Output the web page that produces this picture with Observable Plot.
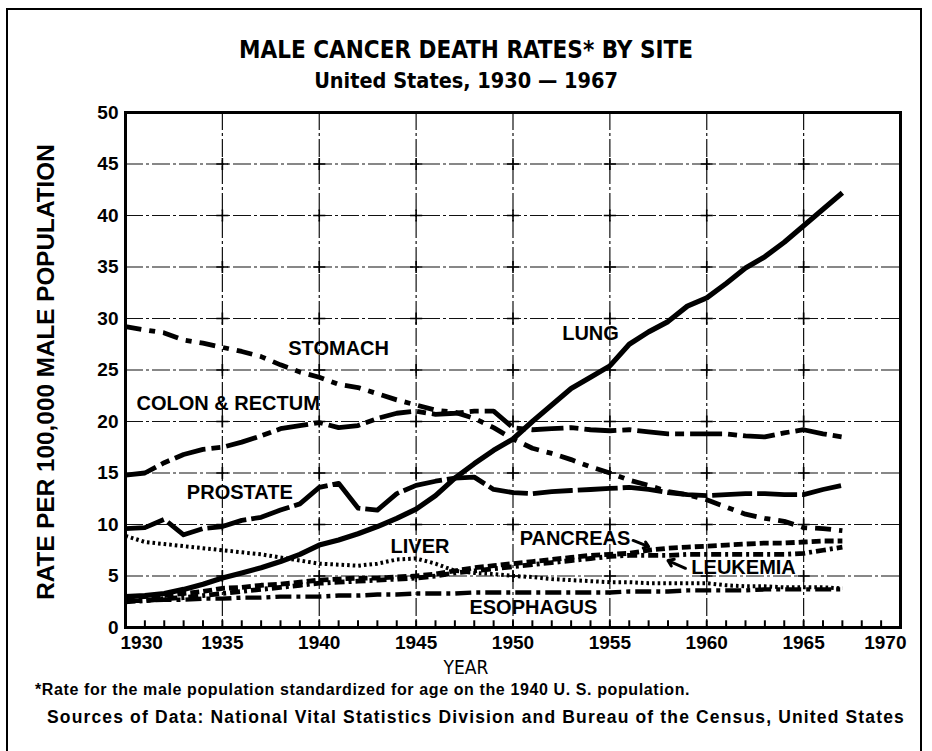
<!DOCTYPE html>
<html>
<head>
<meta charset="utf-8">
<script src="https://cdn.jsdelivr.net/npm/d3@7"></script>
<script src="https://cdn.jsdelivr.net/npm/@observablehq/plot@0.6"></script>
<style>
  html, body { margin: 0; padding: 0; background: #fff; }
  #page { position: relative; width: 932px; height: 751px; overflow: hidden; background: #fff; font-family: "Liberation Sans", Arial, Helvetica, sans-serif; color: #000; }
  #border { position: absolute; left: 6px; top: 8px; width: 916px; height: 780px; border: 2px solid #000; box-sizing: border-box; }
  .t { position: absolute; white-space: nowrap; line-height: 1; }
  #title { left: 0; width: 932px; top: 38px; text-align: center; font-family: "Liberation Sans Narrow", "DejaVu Sans Condensed", Arial, sans-serif; font-size: 24px; font-weight: bold; }
  #subtitle { left: 0; width: 932px; top: 70px; text-align: center; font-family: "Liberation Sans Narrow", "DejaVu Sans Condensed", Arial, sans-serif; font-size: 21.5px; font-weight: bold; }
  #ylab { left: 46px; top: 372px; transform: translate(-50%, -50%) rotate(-90deg); font-weight: bold; font-size: 24.3px; }
  #xlab { left: 0; width: 932px; top: 658px; text-align: center; font-family: "Liberation Sans Narrow", "DejaVu Sans Condensed", Arial, sans-serif; font-size: 19px; }
  #note1 { left: 35px; top: 682px; font-weight: bold; font-size: 16px; }
  #note2 { left: 47px; top: 709px; font-weight: bold; font-size: 17.5px; }
  #chart { position: absolute; left: 0; top: 95px; }
</style>
</head>
<body>
<div id="page">
  <div id="border"></div>
  <div class="t" id="title">MALE CANCER DEATH RATES* BY SITE</div>
  <div class="t" id="subtitle">United States, 1930 — 1967</div>
  <div class="t" id="ylab">RATE PER 100,000 MALE POPULATION</div>
  <div class="t" id="xlab">YEAR</div>
  <div class="t" id="note1">*Rate for the male population standardized for age on the 1940 U. S. population.</div>
  <div class="t" id="note2">Sources of Data: National Vital Statistics Division and Bureau of the Census, United States</div>
  <div id="chart"></div>
</div>
<script>
// ---- data (rate per 100,000 male population), years 1930–1967 ----
const years = d3.range(1930, 1968);

const lung = [3.0, 3.1, 3.3, 3.7, 4.2, 4.8, 5.3, 5.8, 6.4, 7.1,
  8.0, 8.5, 9.1, 9.8, 10.6, 11.5, 12.8, 14.5, 15.9, 17.2,
  18.3, 20.0, 21.6, 23.2, 24.3, 25.4, 27.5, 28.7, 29.7, 31.2,
  32.0, 33.4, 34.9, 36.0, 37.4, 39.0, 40.6, 42.2];
const stomach = [29.2, 28.9, 28.6, 27.9, 27.6, 27.2, 26.8, 26.3, 25.5, 24.8,
  24.3, 23.6, 23.3, 22.7, 22.1, 21.6, 21.1, 20.9, 20.3, 19.4,
  18.3, 17.4, 16.9, 16.3, 15.6, 15.0, 14.3, 13.8, 13.2, 12.9,
  12.4, 11.7, 11.0, 10.6, 10.3, 9.7, 9.6, 9.4];
const colon = [14.8, 15.0, 16.0, 16.8, 17.3, 17.5, 18.0, 18.6, 19.3, 19.6,
  19.9, 19.4, 19.6, 20.3, 20.8, 21.0, 20.7, 20.8, 21.0, 21.0,
  19.4, 19.2, 19.3, 19.4, 19.2, 19.1, 19.2, 19.0, 18.8, 18.8,
  18.8, 18.8, 18.6, 18.5, 18.9, 19.2, 18.8, 18.5];
const prostate = [9.6, 9.7, 10.5, 9.0, 9.6, 9.8, 10.4, 10.7, 11.4, 12.0,
  13.6, 14.0, 11.6, 11.4, 13.0, 13.8, 14.2, 14.5, 14.6, 13.4,
  13.1, 13.0, 13.2, 13.3, 13.4, 13.5, 13.6, 13.4, 13.1, 12.9,
  12.8, 12.9, 13.0, 13.0, 12.9, 12.9, 13.4, 13.8];
const liver = [8.9, 8.3, 8.1, 7.9, 7.7, 7.5, 7.3, 7.1, 6.8, 6.5,
  6.2, 6.1, 6.0, 6.2, 6.6, 6.7, 6.2, 5.5, 5.3, 5.2,
  5.0, 4.9, 4.7, 4.6, 4.5, 4.4, 4.4, 4.3, 4.3, 4.3,
  4.3, 4.1, 4.0, 4.0, 3.9, 3.9, 3.9, 3.8];
const pancreas = [2.9, 3.0, 3.1, 3.3, 3.5, 3.8, 3.9, 4.1, 4.2, 4.4,
  4.6, 4.7, 4.8, 4.8, 4.9, 5.0, 5.2, 5.5, 5.8, 6.0,
  6.2, 6.4, 6.6, 6.8, 7.0, 7.1, 7.2, 7.5, 7.7, 7.8,
  7.9, 8.0, 8.1, 8.2, 8.2, 8.3, 8.4, 8.4];
const leukemia = [2.5, 2.6, 2.8, 2.9, 3.1, 3.3, 3.5, 3.7, 3.9, 4.1,
  4.3, 4.4, 4.5, 4.6, 4.7, 4.8, 5.0, 5.3, 5.5, 5.7,
  5.9, 6.1, 6.3, 6.5, 6.7, 6.9, 7.0, 7.0, 7.0, 7.1,
  7.1, 7.1, 7.1, 7.1, 7.1, 7.2, 7.5, 7.8];
const esophagus = [2.6, 2.6, 2.7, 2.7, 2.8, 2.8, 2.9, 2.9, 3.0, 3.0,
  3.0, 3.1, 3.1, 3.2, 3.2, 3.3, 3.3, 3.3, 3.4, 3.4,
  3.4, 3.4, 3.4, 3.4, 3.4, 3.4, 3.5, 3.5, 3.5, 3.6,
  3.6, 3.6, 3.6, 3.7, 3.7, 3.7, 3.7, 3.7];

// direct labels (anchored in data units)
const labelText = ["STOMACH", "LUNG", "COLON & RECTUM", "PROSTATE", "LIVER", "PANCREAS", "LEUKEMIA", "ESOPHAGUS"];
const labelYear = [1941.0, 1954.0, 1935.3, 1935.9, 1945.2, 1953.2, 1961.9, 1951.05];
const labelRate = [27.1, 28.5, 21.7, 13.1, 7.9, 8.6, 5.8, 1.9];

// pointer arrows for PANCREAS and LEUKEMIA labels
const arrowFrom = [[1956.2, 8.45], [1958.9, 5.75]];
const arrowTo = [[1957.0, 7.85], [1958.0, 6.5]];

// axes
const xTickYears = [1930, 1935, 1940, 1945, 1950, 1955, 1960, 1965, 1970];
const yTickRates = [0, 5, 10, 15, 20, 25, 30, 35, 40, 45, 50];
const gridYears = [1935, 1940, 1945, 1950, 1955, 1960, 1965];
const gridRates = [5, 10, 15, 20, 25, 30, 35, 40, 45];
const minorYears = d3.range(1931, 1970);

// ---- build ----
const styles = [
  {values: lung, w: 5.2, dash: null},
  {values: stomach, w: 4.8, dash: "16,8,6,8"},
  {values: colon, w: 4.8, dash: "32,6,9,6"},
  {values: prostate, w: 4.8, dash: "40,5"},
  {values: liver, w: 4, dash: "2.6,3"},
  {values: pancreas, w: 4.8, dash: "9,4"},
  {values: leukemia, w: 4.8, dash: "10,4,3,4"},
  {values: esophagus, w: 4.4, dash: "16,5,4,5"}
];
const lineMarks = styles.map(s => Plot.line(
  years.map((y, i) => ({year: y, rate: s.values[i]})),
  {x: "year", y: "rate", stroke: "black", strokeWidth: s.w, strokeDasharray: s.dash,
   strokeLinejoin: "round", strokeLinecap: "butt"}
));

const labels = labelText.map((t, i) => ({t, x: labelYear[i], y: labelRate[i]}));
const arrows = arrowFrom.map((a, i) => ({x1: a[0], y1: a[1], x2: arrowTo[i][0], y2: arrowTo[i][1]}));
const crosses = d3.cross(gridYears, gridRates);

const tickFont = {fontSize: 19, fontWeight: "bold"};

const chart = Plot.plot({
  width: 932,
  height: 580,
  marginTop: 17,
  marginBottom: 48,
  marginLeft: 125,
  marginRight: 32,
  style: {fontFamily: "'Liberation Sans', Arial, Helvetica, sans-serif", background: "transparent", color: "black"},
  x: {domain: [1930, 1970]},
  y: {domain: [0, 50]},
  marks: [
    Plot.ruleX(gridYears, {stroke: "#111", strokeWidth: 1.2, strokeDasharray: "18,3,3,3"}),
    Plot.ruleY(gridRates, {stroke: "#111", strokeWidth: 1.2, strokeDasharray: "18,3,3,3"}),
    Plot.dot(crosses, {x: d => d[0], y: d => d[1], symbol: "plus", r: 4, stroke: "black", strokeWidth: 1.6}),
    Plot.ruleX(minorYears, {y1: 0, y2: 0.65, stroke: "black", strokeWidth: 2}),
    ...lineMarks,
    Plot.arrow(arrows, {x1: "x1", y1: "y1", x2: "x2", y2: "y2", stroke: "black", strokeWidth: 3, headLength: 9, headAngle: 70}),
    Plot.text(labels, {x: "x", y: "y", text: "t", fontSize: 20, fontWeight: "bold", fill: "black"}),
    Plot.frame({stroke: "black", strokeWidth: 3}),
    Plot.axisY(yTickRates, {tickSize: 0, tickPadding: 7, label: null, ...tickFont}),
    Plot.axisX(xTickYears.slice(1, -1), {tickSize: 0, tickPadding: 8, label: null, tickFormat: d => String(d), ...tickFont}),
    Plot.axisX([xTickYears[0]], {tickSize: 0, tickPadding: 8, label: null, tickFormat: d => String(d), textAnchor: "start", dx: -5, ...tickFont}),
    Plot.axisX([xTickYears[xTickYears.length - 1]], {tickSize: 0, tickPadding: 8, label: null, tickFormat: d => String(d), textAnchor: "end", dx: 6, ...tickFont})
  ]
});
document.getElementById("chart").appendChild(chart);

// stretch caption lines to the widths they span in the original
function fitWidth(id, target) {
  const el = document.getElementById(id);
  const n = el.textContent.length;
  const w = el.getBoundingClientRect().width;
  el.style.letterSpacing = ((target - w) / n).toFixed(2) + "px";
}
fitWidth("note1", 655);
fitWidth("note2", 858);
</script>
</body>
</html>
